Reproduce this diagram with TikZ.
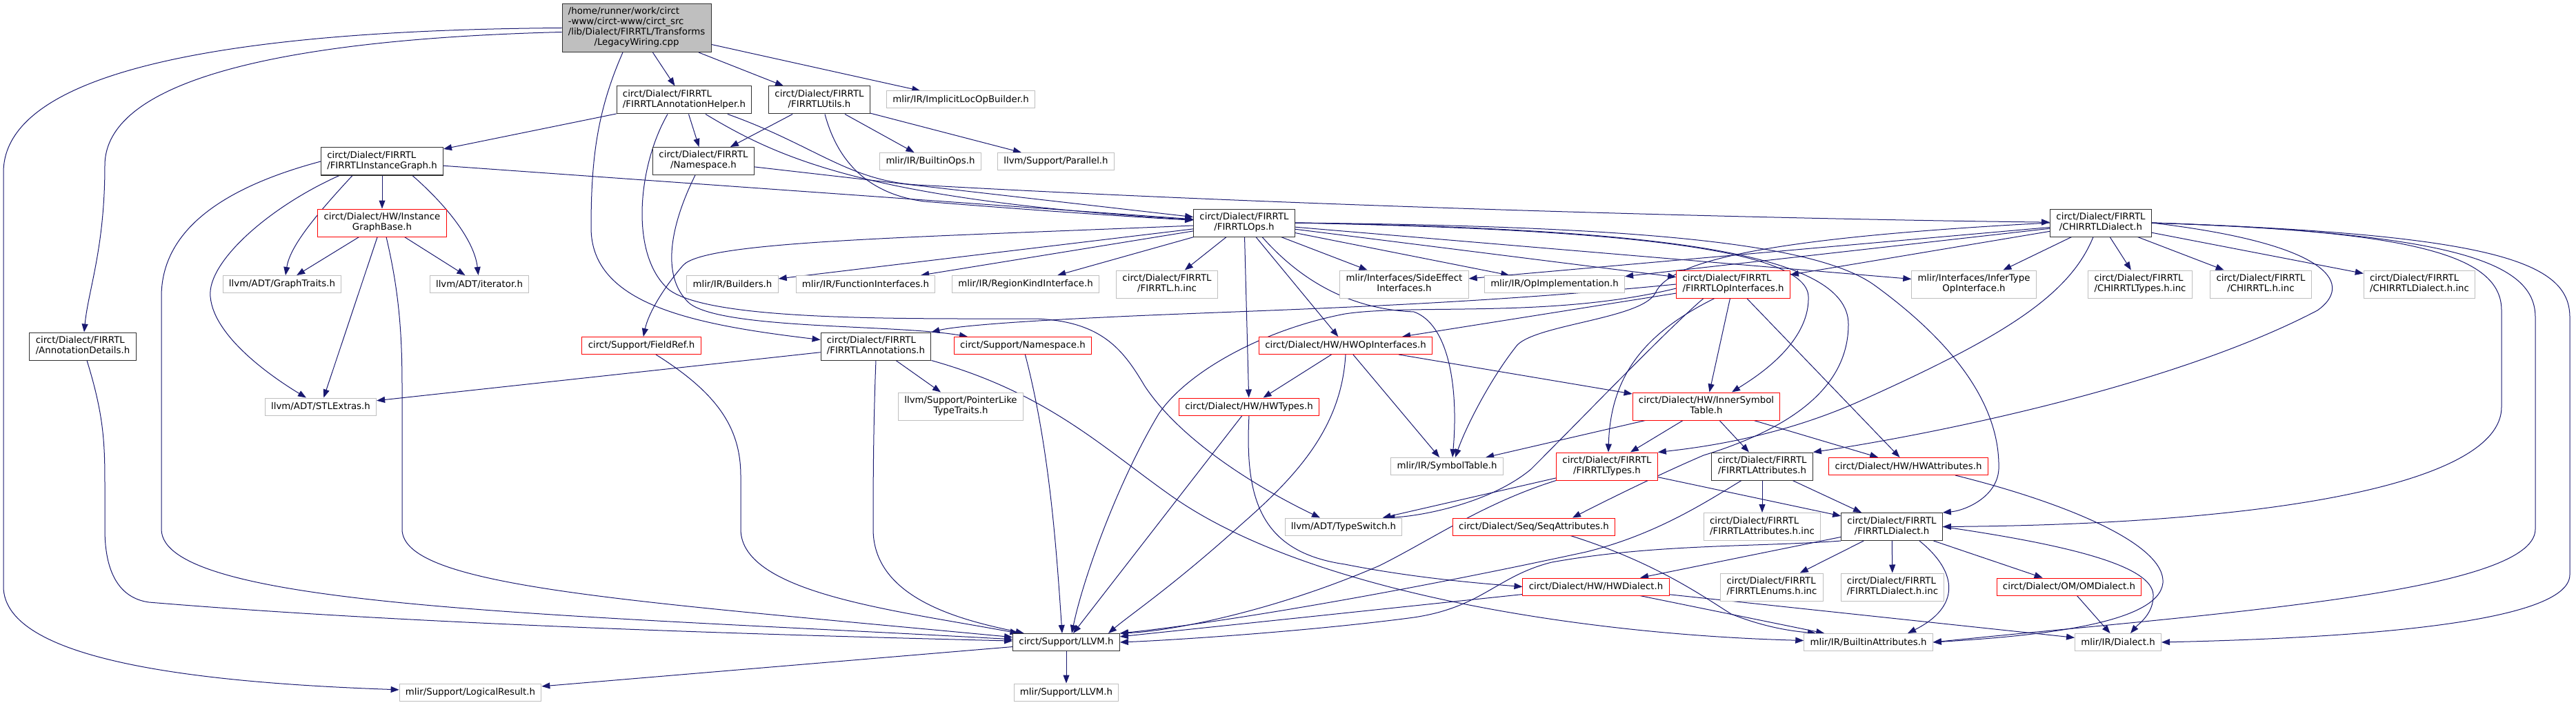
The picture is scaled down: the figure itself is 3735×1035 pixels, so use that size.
\documentclass[tikz,border=0pt]{standalone}
\usepackage{fontspec}
\setmainfont{DejaVu Sans}
\usetikzlibrary{arrows.meta,backgrounds}
\definecolor{edgeblue}{HTML}{191970}
\definecolor{lightbox}{HTML}{BFBFBF}
\definecolor{redbox}{HTML}{FF0000}
\definecolor{darkbox}{HTML}{303030}
\newcommand{\lbl}[2]{\begin{tabular}{@{}c@{}}\multicolumn{1}{@{}l@{}}{#1}\\#2\end{tabular}}

\begin{document}
\begin{tikzpicture}[x=1pt, y=-1pt, >={Triangle[length=12pt,width=9pt]},
  hdr/.style={draw=darkbox, line width=1pt, fill=white, inner xsep=8.8pt, inner ysep=5pt,
    minimum height=25pt, font=\fontsize{13.33}{15}\selectfont},
  ext/.style={hdr, draw=lightbox},
  trunc/.style={hdr, draw=redbox},
  dep/.style={->, draw=edgeblue, line width=1pt}]
\useasboundingbox (0,0) rectangle (3735,1035);

\node[hdr, fill=lightbox] (root) at (923,40.5) {\begin{tabular}{@{}c@{}}\multicolumn{1}{@{}l@{}}{/home/runner/work/circt}\\ \multicolumn{1}{@{}l@{}}{-www/circt-www/circt\_src}\\ \multicolumn{1}{@{}l@{}}{/lib/Dialect/FIRRTL/Transforms}\\ /LegacyWiring.cpp\end{tabular}};
\node[hdr] (annhelper) at (992,145) {\lbl{circt/Dialect/FIRRTL}{/FIRRTLAnnotationHelper.h}};
\node[hdr] (utils) at (1188,145) {\lbl{circt/Dialect/FIRRTL}{/FIRRTLUtils.h}};
\node[ext] (implicitloc) at (1393,144.5) {mlir/IR/ImplicitLocOpBuilder.h};
\node[hdr] (instgraph) at (554,234) {\lbl{circt/Dialect/FIRRTL}{/FIRRTLInstanceGraph.h}};
\node[hdr] (fnamespace) at (1020,233.5) {\lbl{circt/Dialect/FIRRTL}{/Namespace.h}};
\node[ext] (builtinops) at (1349,234) {mlir/IR/BuiltinOps.h};
\node[ext] (parallel) at (1531,234) {llvm/Support/Parallel.h};
\node[trunc] (igbase) at (554,323) {\lbl{circt/Dialect/HW/Instance}{GraphBase.h}};
\node[hdr] (ops) at (1804,323) {\lbl{circt/Dialect/FIRRTL}{/FIRRTLOps.h}};
\node[hdr] (chirrtl) at (3046,323) {\lbl{circt/Dialect/FIRRTL}{/CHIRRTLDialect.h}};
\node[ext] (graphtraits) at (409,412) {llvm/ADT/GraphTraits.h};
\node[ext] (iterator) at (695,412) {llvm/ADT/iterator.h};
\node[ext] (builders) at (1062,412) {mlir/IR/Builders.h};
\node[ext] (funcif) at (1255,412) {mlir/IR/FunctionInterfaces.h};
\node[ext] (regionkind) at (1487,412) {mlir/IR/RegionKindInterface.h};
\node[ext] (firrtlinc) at (1692,412) {\lbl{circt/Dialect/FIRRTL}{/FIRRTL.h.inc}};
\node[ext] (sideeffect) at (2036,412) {\lbl{mlir/Interfaces/SideEffect}{Interfaces.h}};
\node[ext] (opimpl) at (2254,412) {mlir/IR/OpImplementation.h};
\node[trunc] (opif) at (2513,412) {\lbl{circt/Dialect/FIRRTL}{/FIRRTLOpInterfaces.h}};
\node[ext] (infertype) at (2862,412) {\lbl{mlir/Interfaces/InferType}{OpInterface.h}};
\node[ext] (chtypesinc) at (3103,412) {\lbl{circt/Dialect/FIRRTL}{/CHIRRTLTypes.h.inc}};
\node[ext] (chinc) at (3278,412) {\lbl{circt/Dialect/FIRRTL}{/CHIRRTL.h.inc}};
\node[ext] (chdialinc) at (3508,412) {\lbl{circt/Dialect/FIRRTL}{/CHIRRTLDialect.h.inc}};
\node[hdr] (anndetails) at (120,502) {\lbl{circt/Dialect/FIRRTL}{/AnnotationDetails.h}};
\node[trunc] (fieldref) at (930,501) {circt/Support/FieldRef.h};
\node[hdr] (annotations) at (1270,502) {\lbl{circt/Dialect/FIRRTL}{/FIRRTLAnnotations.h}};
\node[trunc] (snamespace) at (1483,501) {circt/Support/Namespace.h};
\node[trunc] (hwopif) at (1951,501) {circt/Dialect/HW/HWOpInterfaces.h};
\node[ext] (stlextras) at (465,589.5) {llvm/ADT/STLExtras.h};
\node[ext] (pointerlike) at (1393,589) {\lbl{llvm/Support/PointerLike}{TypeTraits.h}};
\node[trunc] (hwtypes) at (1811,589.5) {circt/Dialect/HW/HWTypes.h};
\node[trunc] (innersym) at (2474,589) {\lbl{circt/Dialect/HW/InnerSymbol}{Table.h}};
\node[ext] (symtable) at (2098,676) {mlir/IR/SymbolTable.h};
\node[trunc] (ftypes) at (2330,676) {\lbl{circt/Dialect/FIRRTL}{/FIRRTLTypes.h}};
\node[hdr] (fattrs) at (2555,676) {\lbl{circt/Dialect/FIRRTL}{/FIRRTLAttributes.h}};
\node[trunc] (hwattrs) at (2767,676) {circt/Dialect/HW/HWAttributes.h};
\node[ext] (typeswitch) at (1948,763.5) {llvm/ADT/TypeSwitch.h};
\node[trunc] (seqattrs) at (2224,763.5) {circt/Dialect/Seq/SeqAttributes.h};
\node[ext] (fattrsinc) at (2555,763.5) {\lbl{circt/Dialect/FIRRTL}{/FIRRTLAttributes.h.inc}};
\node[hdr] (fdialect) at (2743,763.5) {\lbl{circt/Dialect/FIRRTL}{/FIRRTLDialect.h}};
\node[trunc] (hwdialect) at (2314,850.5) {circt/Dialect/HW/HWDialect.h};
\node[ext] (enumsinc) at (2569,851) {\lbl{circt/Dialect/FIRRTL}{/FIRRTLEnums.h.inc}};
\node[ext] (fdialectinc) at (2744,851) {\lbl{circt/Dialect/FIRRTL}{/FIRRTLDialect.h.inc}};
\node[trunc] (omdialect) at (3000,850.5) {circt/Dialect/OM/OMDialect.h};
\node[hdr] (cllvm) at (1546,931) {circt/Support/LLVM.h};
\node[ext] (builtinattrs) at (2709,931) {mlir/IR/BuiltinAttributes.h};
\node[ext] (mdialect) at (3071,931) {mlir/IR/Dialect.h};
\node[ext] (logicalres) at (682,1003.5) {mlir/Support/LogicalResult.h};
\node[ext] (mllvm) at (1546,1003.5) {mlir/Support/LLVM.h};

\begin{pgfonlayer}{background}
% source file
\draw[dep] (root.west) .. controls (300,44) and (5,110) .. (5,250) -- (5,850) .. controls (5,960) and (300,990) .. (logicalres);
\draw[dep] ([yshift=-6pt]root.west) .. controls (480,55) and (152,100) .. (152,240) .. controls (152,360) and (128,420) .. (anndetails);
\draw[dep] (root) -- (annhelper);
\draw[dep] (root) -- (utils);
\draw[dep] (root) -- (implicitloc);
\draw[dep] ([xshift=-20pt]root.south) .. controls (866,160) and (857,230) .. (857,330) .. controls (857,440) and (1000,470) .. (annotations);
% annotation helper, utils, namespace
\draw[dep] (annhelper) -- (instgraph);
\draw[dep] (annhelper) -- (fnamespace);
\draw[dep] ([xshift=31pt]annhelper.south) .. controls (1130,230) and (1260,290) .. (ops);
\draw[dep] ([xshift=63pt]annhelper.south) .. controls (1180,210) and (1230,262) .. (1330,268) .. controls (1900,300) and (2600,318) .. (chirrtl);
\draw[dep] ([xshift=-24pt]annhelper.south) .. controls (925,240) and (912,370) .. (970,420) .. controls (1030,465) and (1300,462) .. (1500,462) .. controls (1600,465) and (1630,510) .. (1660,560) .. controls (1720,650) and (1850,720) .. ([xshift=-34pt]typeswitch.north);
\draw[dep] (utils) -- (fnamespace);
\draw[dep] ([xshift=8pt]utils.south) .. controls (1212,225) and (1250,280) .. (1340,292) .. controls (1500,305) and (1650,315) .. (ops);
\draw[dep] (utils) -- (builtinops);
\draw[dep] (utils) -- (parallel);
\draw[dep] (fnamespace) -- (ops);
\draw[dep] ([xshift=-12pt]fnamespace.south) .. controls (975,320) and (955,400) .. (1000,440) .. controls (1050,478) and (1300,470) .. ([xshift=-80pt]snamespace.north);
% instance graph
\draw[dep] (instgraph) -- (ops);
\draw[dep] (instgraph) -- (igbase);
\draw[dep] ([xshift=-43pt]instgraph.south) .. controls (450,320) and (420,360) .. ([xshift=5pt]graphtraits.north);
\draw[dep] ([xshift=44pt]instgraph.south) .. controls (650,300) and (688,350) .. (iterator);
\draw[dep] ([xshift=-62pt]instgraph.south) .. controls (390,300) and (300,380) .. (305,430) .. controls (310,490) and (400,550) .. ([xshift=-21pt]stlextras.north);
\draw[dep] (instgraph.west) .. controls (330,270) and (234,330) .. (234,430) -- (234,767) .. controls (234,880) and (800,890) .. (cllvm);
\draw[dep] (igbase) -- (graphtraits);
\draw[dep] (igbase) -- (iterator);
\draw[dep] (igbase) -- (stlextras);
\draw[dep] ([xshift=6pt]igbase.south) .. controls (578,420) and (583,480) .. (583,560) -- (583,767) .. controls (583,850) and (900,870) .. (cllvm);
\draw[dep] ([xshift=6pt]anndetails.south) .. controls (150,600) and (152,640) .. (152,700) -- (152,767) .. controls (152,840) and (180,868) .. (216,873) .. controls (600,905) and (1100,920) .. (cllvm);
\draw[dep] (cllvm) -- (logicalres);
\draw[dep] (cllvm) -- (mllvm);
% annotations, field ref, support namespace
\draw[dep] (annotations) -- (stlextras);
\draw[dep] (annotations) -- (pointerlike);
\draw[dep] (annotations.south) .. controls (1266,620) and (1266,720) .. (1266,767) .. controls (1266,870) and (1400,900) .. (cllvm);
\draw[dep] (annotations.south east) .. controls (1520,570) and (1600,650) .. (1700,720) .. controls (1900,860) and (2300,920) .. (builtinattrs);
\draw[dep] ([xshift=21pt]fieldref.south) .. controls (1040,570) and (1074,620) .. (1074,690) -- (1074,767) .. controls (1074,860) and (1300,885) .. (cllvm);
\draw[dep] (snamespace) .. controls (1522,650) and (1532,800) .. ([xshift=-6pt]cllvm.north);
% FIRRTLOps
\draw[dep] ([yshift=-4pt]ops.west) .. controls (1300,345) and (1020,350) .. (990,385) .. controls (960,420) and (940,455) .. (fieldref);
\draw[dep] (ops) -- (builders);
\draw[dep] (ops) -- (funcif);
\draw[dep] (ops) -- (regionkind);
\draw[dep] (ops) -- (firrtlinc);
\draw[dep] (ops) -- (hwtypes);
\draw[dep] (ops) -- (hwopif);
\draw[dep] (ops) -- (sideeffect);
\draw[dep] (ops) -- (opimpl);
\draw[dep] (ops) -- (opif);
\draw[dep] (ops) -- (infertype);
\draw[dep] ([xshift=26pt]ops.south) .. controls (1880,400) and (1950,448) .. (2050,452) .. controls (2100,470) and (2115,560) .. ([xshift=8pt]symtable.north);
\draw[dep] (ops.east) .. controls (2300,332) and (2620,355) .. (2622,430) .. controls (2624,500) and (2540,550) .. ([xshift=37pt]innersym.north);
\draw[dep] (ops.east) .. controls (2400,332) and (2680,365) .. (2680,470) .. controls (2680,560) and (2600,620) .. (2470,660) .. controls (2400,690) and (2320,730) .. ([xshift=56pt]seqattrs.north);
\draw[dep] (ops.east) .. controls (2400,328) and (2640,355) .. (2720,415) .. controls (2850,510) and (2900,600) .. (2898,680) .. controls (2896,720) and (2850,740) .. (fdialect.north east);
% CHIRRTL dialect
\draw[dep] (chirrtl) -- (infertype);
\draw[dep] (chirrtl) -- (chtypesinc);
\draw[dep] (chirrtl) -- (chinc);
\draw[dep] (chirrtl) -- (chdialinc);
\draw[dep] (chirrtl) -- (sideeffect);
\draw[dep] (chirrtl) -- (opimpl);
\draw[dep] (chirrtl) -- (opif);
\draw[dep] (chirrtl.west) .. controls (2550,345) and (2420,380) .. (2400,425) .. controls (2380,462) and (2230,470) .. (2200,500) .. controls (2160,550) and (2125,620) .. ([xshift=12pt]symtable.north);
\draw[dep] ([xshift=-11pt]chirrtl.south) .. controls (3000,430) and (2900,490) .. (2700,580) .. controls (2600,625) and (2500,645) .. (ftypes.north east);
\draw[dep] (chirrtl.east) .. controls (3390,355) and (3410,415) .. (3360,450) .. controls (3150,560) and (2800,630) .. (fattrs.north east);
\draw[dep] (chirrtl.east) .. controls (3500,335) and (3627,370) .. (3627,450) -- (3627,590) .. controls (3627,700) and (3300,760) .. (fdialect.east);
\draw[dep] (chirrtl.east) .. controls (3560,338) and (3676,380) .. (3676,460) -- (3676,767) .. controls (3676,860) and (3200,890) .. (builtinattrs.east);
\draw[dep] (chirrtl.east) .. controls (3620,340) and (3726,380) .. (3726,460) -- (3726,833) .. controls (3726,905) and (3400,925) .. (mdialect.east);
% FIRRTL op interfaces
\draw[dep] (opif.west) .. controls (2100,445) and (1800,450) .. (1600,460) .. controls (1450,467) and (1380,474) .. (annotations.north east);
\draw[dep] ([yshift=-6pt]opif.west) .. controls (2250,462) and (2050,440) .. (1950,455) .. controls (1830,478) and (1720,540) .. (1680,600) .. controls (1620,700) and (1570,840) .. ([xshift=8pt]cllvm.north);
\draw[dep] (opif) -- (hwopif);
\draw[dep] ([xshift=-43pt]opif.south) .. controls (2420,475) and (2300,600) .. (2220,680) .. controls (2160,730) and (2060,748) .. ([xshift=-23pt]typeswitch.north east);
\draw[dep] ([xshift=-27pt]opif.south) .. controls (2390,480) and (2335,540) .. ([xshift=2pt]ftypes.north);
\draw[dep] (opif) -- (innersym);
\draw[dep] (opif) -- (hwattrs);
% HW headers
\draw[dep] (hwopif) -- (hwtypes);
\draw[dep] (hwopif.south) .. controls (1945,620) and (1880,690) .. (1800,760) .. controls (1700,850) and (1640,890) .. ([xshift=61pt]cllvm.north);
\draw[dep] (hwopif) -- (symtable);
\draw[dep] (hwopif) -- (innersym);
\draw[dep] (hwtypes) -- (cllvm);
\draw[dep] (hwtypes.south) .. controls (1805,720) and (1825,800) .. (1950,818) .. controls (2050,838) and (2150,846) .. (hwdialect.west);
\draw[dep] (innersym) -- (symtable);
\draw[dep] (innersym) -- (ftypes);
\draw[dep] (innersym) -- (fattrs);
\draw[dep] (innersym) -- (hwattrs);
% FIRRTL types and attributes
\draw[dep] (ftypes) -- (typeswitch);
\draw[dep] (ftypes.south west) .. controls (2150,730) and (2080,780) .. (2000,820) .. controls (1850,885) and (1700,915) .. (cllvm.north east);
\draw[dep] (ftypes) -- (fdialect);
\draw[dep] (fattrs) -- (fattrsinc);
\draw[dep] (fattrs) -- (fdialect);
\draw[dep] ([xshift=-30pt]fattrs.south) .. controls (2470,730) and (2400,775) .. (2300,800) .. controls (2000,865) and (1750,905) .. (cllvm.north east);
\draw[dep] ([xshift=68pt]hwattrs.south) .. controls (3000,730) and (3140,790) .. (3136,845) .. controls (3130,905) and (2950,922) .. (builtinattrs.east);
\draw[dep] ([xshift=53pt]seqattrs.south) .. controls (2400,815) and (2470,865) .. (2510,890) .. controls (2560,910) and (2600,915) .. ([xshift=-76pt]builtinattrs.north);
% FIRRTL dialect
\draw[dep] (fdialect) -- (fdialectinc);
\draw[dep] (fdialect) -- (enumsinc);
\draw[dep] (fdialect) -- (hwdialect);
\draw[dep] (fdialect) -- (omdialect);
\draw[dep] ([xshift=40pt]fdialect.south) .. controls (2840,830) and (2842,880) .. ([xshift=57pt]builtinattrs.north);
\draw[dep] (fdialect.east) .. controls (3000,790) and (3120,820) .. (3122,862) .. controls (3123,890) and (3100,905) .. ([xshift=18pt]mdialect.north);
\draw[dep] (fdialect.south west) .. controls (2550,793) and (2400,788) .. (2250,815) .. controls (2170,835) and (2150,880) .. (2050,895) .. controls (1900,915) and (1700,928) .. (cllvm.east);
\draw[dep] (hwdialect) -- (builtinattrs);
\draw[dep] (hwdialect) -- (mdialect);
\draw[dep] (hwdialect) -- (cllvm);
\draw[dep] (omdialect) -- (mdialect);
\end{pgfonlayer}
\end{tikzpicture}
\end{document}
